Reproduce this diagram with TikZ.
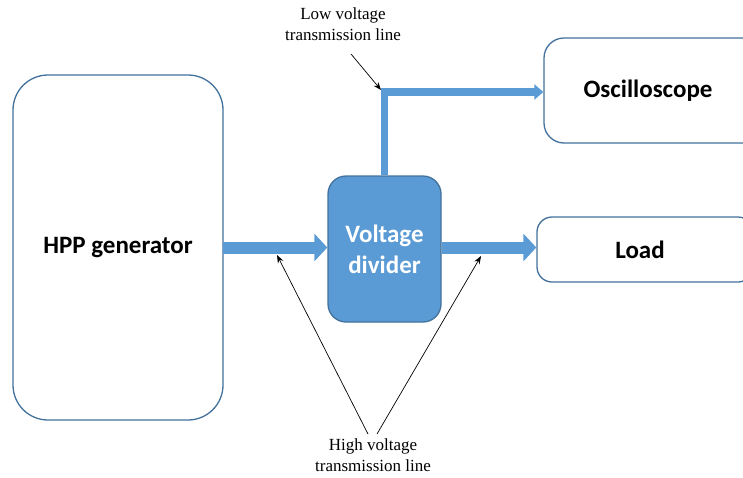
\documentclass[tikz,border=0pt]{standalone}
\usepackage{fontspec}
\setmainfont{Liberation Serif}
\newfontfamily\calibrifont{Carlito}
\usetikzlibrary{arrows.meta}
\definecolor{boxblue}{HTML}{5B9BD5}
\definecolor{edgeblue}{HTML}{41719C}
\begin{document}
\begin{tikzpicture}[x=1pt,y=-1pt,
  blockbox/.style={draw=edgeblue,line width=1.3pt,fill=white,rectangle,
    font=\calibrifont\bfseries\fontsize{25}{31}\selectfont,align=center,inner sep=0pt},
  bigarrow/.style={draw=boxblue,line width=12pt,-{Triangle[length=13pt,width=27pt]}},
  smallarrow/.style={draw=boxblue,line width=7.5pt,miter limit=4,line join=miter,-{Triangle[length=9pt,width=15pt]}},
  lbl/.style={font=\fontsize{17}{20.5}\selectfont,align=center,inner sep=0pt},
  leader/.style={draw=black,line width=0.7pt,-{Stealth[length=8pt,width=6pt]}}]
\useasboundingbox (0,0) rectangle (743,477);
\clip (0,0) rectangle (743,477);

\node[blockbox,minimum width=210pt,minimum height=345pt,rounded corners=35pt] (hpp) at (118,247.5) {HPP generator};
\node[blockbox,fill=boxblue,text=white,minimum width=113pt,minimum height=146pt,rounded corners=18pt] (vd) at (384.5,249) {Voltage\\divider};
\node[blockbox,minimum width=220pt,minimum height=105pt,rounded corners=20pt] (osc) at (654,90.5) {Oscilloscope\hspace*{12pt}};
\node[blockbox,minimum width=216pt,minimum height=65pt,rounded corners=15pt] (load) at (645,249.5) {Load\hspace*{10pt}};

\draw[bigarrow] ([xshift=-0.6pt]hpp.east) -- (hpp.east -| vd.west);
\draw[bigarrow] (vd.east |- hpp.east) -- (load.west |- hpp.east);
\draw[smallarrow] ([yshift=0.6pt]vd.north) |- ([yshift=-1.5pt]osc.west);

\node[lbl] (low) at (343,24) {Low voltage\\transmission line};
\node[lbl] (high) at (373,455) {High voltage\\transmission line};

\coordinate (lowstart) at (351,54);
\coordinate (lowend) at (381,90);
\coordinate (hl) at (368,434);
\coordinate (hr) at (377,434);
\coordinate (hlend) at (277,255);
\coordinate (hrend) at (481,256);

\draw[leader] (lowstart) -- (lowend);
\draw[leader] (hl) -- (hlend);
\draw[leader] (hr) -- (hrend);
\end{tikzpicture}
\end{document}
